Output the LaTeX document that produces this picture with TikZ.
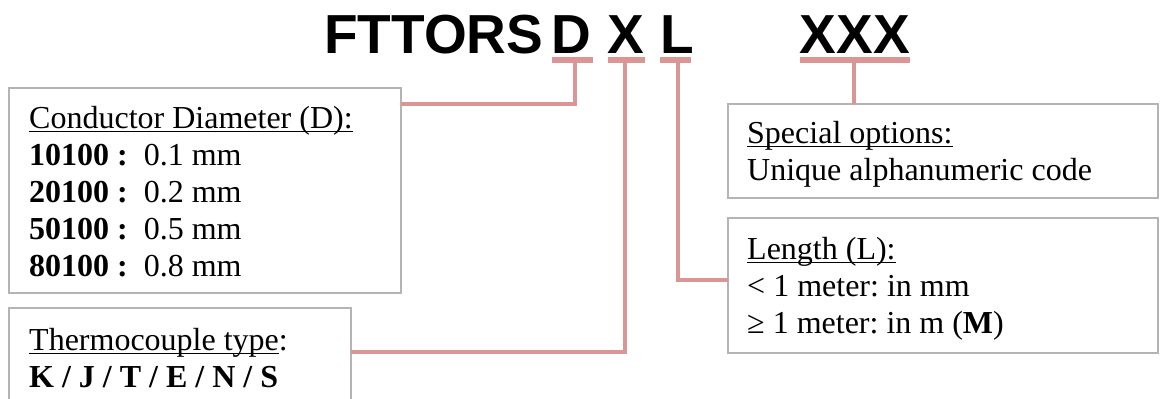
\documentclass[tikz,border=0pt]{standalone}
\usepackage{fontspec}
\setmainfont{Liberation Serif}
\newfontfamily\titlefont{Liberation Sans}
\definecolor{barpink}{RGB}{218,150,148}
\definecolor{boxgray}{RGB}{180,180,180}
\newcommand\ulx[1]{\setbox0\hbox{#1}\rlap{\rule[-4.3pt]{\wd0}{1.6pt}}\box0}
\frenchspacing
\begin{document}
\begin{tikzpicture}[x=1pt,y=-1pt,
 ttl/.style={font=\titlefont\bfseries\fontsize{55}{60}\selectfont, inner sep=0pt, anchor=base west},
 txt/.style={font=\frenchspacing\fontsize{32}{37}\selectfont, inner sep=0pt, anchor=base west},
 box/.style={draw=boxgray, line width=1.5pt, rectangle, inner sep=0pt, outer sep=0pt, anchor=north west},
 barnode/.style={fill=barpink, rectangle, inner sep=0pt, outer sep=0pt, minimum height=6pt},
 conn/.style={draw=barpink, line width=4pt},
]
\clip (0,0) rectangle (1160,399);
% title
\node[ttl] (ftt) at (324,53) {FTTORS};
\node[ttl] (D) at (551,53) {D};
\node[ttl] (X) at (607.5,53) {X};
\node[ttl] (L) at (660,53) {L};
\node[ttl] (XXX) at (799.5,53) {XXX};
% bars
\node[barnode, minimum width=41pt] (Dbar) at (572.5,60) {};
\node[barnode, minimum width=37pt] (Xbar) at (626.5,60) {};
\node[barnode, minimum width=31pt] (Lbar) at (675.5,60) {};
\node[barnode, minimum width=110pt] (XXXbar) at (855,60) {};
% boxes
\node[box, minimum width=392pt, minimum height=205pt] (cond) at (9,88) {};
\node[box, minimum width=342pt, minimum height=130pt] (thermo) at (9,308) {};
\node[box, minimum width=430pt, minimum height=94pt] (special) at (728,104) {};
\node[box, minimum width=430pt, minimum height=135pt] (length) at (728,218) {};
% connector coordinates
\coordinate (Dc) at (575,60);
\coordinate (Xc) at (625,60);
\coordinate (Lc) at (677.5,60);
\coordinate (XXXc) at (853.5,60);
\coordinate (condin) at (401,104);
\coordinate (thermoin) at (351,352);
\coordinate (lenin) at (728,280);
\coordinate (specin) at (853.5,104);
\draw[conn] (Dc) |- (condin);
\draw[conn] (Xc) |- (thermoin);
\draw[conn] (Lc) |- (lenin);
\draw[conn] (XXXc) -- (specin);
% texts
\node[txt] (c1) at (29,128) {\ulx{Conductor Diameter (D):}};
\node[txt] (c2) at (29,165) {\textbf{10100 :}\ \ 0.1 mm};
\node[txt] (c3) at (29,202) {\textbf{20100 :}\ \ 0.2 mm};
\node[txt] (c4) at (29,239) {\textbf{50100 :}\ \ 0.5 mm};
\node[txt] (c5) at (29,276) {\textbf{80100 :}\ \ 0.8 mm};
\node[txt] (t1) at (29,350) {\ulx{Thermocouple type}:};
\node[txt] (t2) at (29,387) {\textbf{K / J / T / E / N / S}};
\node[txt] (s1) at (747,143) {\ulx{Special options:}};
\node[txt] (s2) at (747,180) {Unique alphanumeric code};
\node[txt] (l1) at (747,259) {\ulx{Length (L):}};
\node[txt] (l2) at (747,296) {< 1 meter: in mm};
\node[txt] (l3) at (747,333) {≥ 1 meter: in m (\textbf{M})};
\end{tikzpicture}
\end{document}
